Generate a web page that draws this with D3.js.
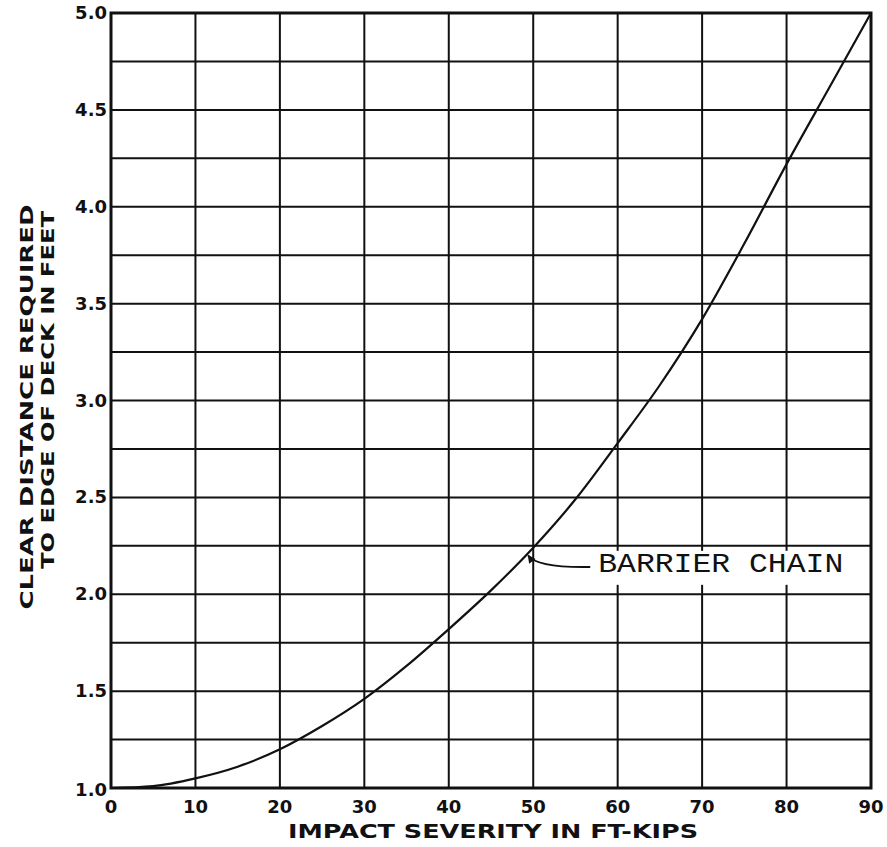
<!DOCTYPE html>
<html>
<head>
<meta charset="utf-8">
<script src="https://cdn.jsdelivr.net/npm/d3@7"></script>
<style>
  body { margin: 0; background: #fff; }
  svg { display: block; }
</style>
</head>
<body>
<svg id="chart" width="887" height="847"></svg>
<script>
// impact severity (ft-kips) vs clear distance to edge of deck (ft)
var severity = [0, 5, 10, 15, 20, 25, 30, 35, 40, 45, 50, 55, 60, 65, 70, 75, 80, 85, 90];
var distance = [1.0, 1.01, 1.05, 1.11, 1.20, 1.32, 1.46, 1.63, 1.82, 2.02, 2.24, 2.49, 2.78, 3.08, 3.42, 3.81, 4.22, 4.61, 5.0];

var xTicks = [0, 10, 20, 30, 40, 50, 60, 70, 80, 90];
var yTicks = [1.0, 1.5, 2.0, 2.5, 3.0, 3.5, 4.0, 4.5, 5.0];
var yGrid = [1.0, 1.25, 1.5, 1.75, 2.0, 2.25, 2.5, 2.75, 3.0, 3.25, 3.5, 3.75, 4.0, 4.25, 4.5, 4.75, 5.0];

var curveName = "BARRIER CHAIN";
var xTitle = "IMPACT SEVERITY IN FT-KIPS";
var yTitle = ["CLEAR DISTANCE REQUIRED", "TO EDGE OF DECK IN FEET"];

var svg = d3.select("#chart");
var pLeft = 111, pRight = 871, pTop = 13, pBottom = 788;
var ink = "#111";
var font = "'DejaVu Sans', sans-serif";

var x = d3.scaleLinear().domain([0, 90]).range([pLeft, pRight]);
var y = d3.scaleLinear().domain([1, 5]).range([pBottom, pTop]);

// grid
svg.append("g").selectAll("line")
    .data(xTicks)
    .enter().append("line")
    .attr("x1", d => x(d)).attr("x2", d => x(d))
    .attr("y1", pTop).attr("y2", pBottom)
    .attr("stroke", ink).attr("stroke-width", 2);

svg.append("g").selectAll("line")
    .data(yGrid)
    .enter().append("line")
    .attr("x1", pLeft).attr("x2", pRight)
    .attr("y1", d => y(d)).attr("y2", d => y(d))
    .attr("stroke", ink).attr("stroke-width", 2);

// frame
svg.append("rect")
    .attr("x", pLeft).attr("y", pTop)
    .attr("width", pRight - pLeft).attr("height", pBottom - pTop)
    .attr("fill", "none").attr("stroke", ink).attr("stroke-width", 3);

// white patch behind the curve label
svg.append("rect")
    .attr("x", x(50) + 3).attr("y", y(2.25) + 5)
    .attr("width", pRight - x(50) - 5).attr("height", 34)
    .attr("fill", "#fff");

// curve
var line = d3.line()
    .x((d, i) => x(severity[i]))
    .y(d => y(d))
    .curve(d3.curveMonotoneX);

svg.append("path")
    .datum(distance)
    .attr("d", line)
    .attr("fill", "none")
    .attr("stroke", ink)
    .attr("stroke-width", 2.2);

// label with arrow
svg.append("defs").append("marker")
    .attr("id", "head")
    .attr("viewBox", "0 0 10 10")
    .attr("refX", 9).attr("refY", 5)
    .attr("markerWidth", 11).attr("markerHeight", 8)
    .attr("markerUnits", "userSpaceOnUse")
    .attr("orient", "auto")
    .append("path")
    .attr("d", "M0,0L10,5L0,10Z")
    .attr("fill", ink);

var tx = x(57.7), ty = y(2.115);
svg.append("path")
    .attr("d", "M" + (tx - 8) + "," + (ty - 5) +
        "Q" + (x(50) + 4) + "," + (ty - 4) + " " + (x(49.4)) + "," + (y(2.2)))
    .attr("fill", "none")
    .attr("stroke", ink)
    .attr("stroke-width", 2)
    .attr("marker-end", "url(#head)");

svg.append("text")
    .attr("x", tx).attr("y", ty)
    .attr("textLength", 245)
    .attr("lengthAdjust", "spacingAndGlyphs")
    .style("font-family", "'Liberation Mono', monospace")
    .style("font-size", "27px")
    .attr("fill", ink)
    .text(curveName);

// tick labels
svg.append("g").selectAll("text")
    .data(xTicks)
    .enter().append("text")
    .attr("x", d => x(d))
    .attr("y", pBottom + 25)
    .attr("text-anchor", "middle")
    .style("font-family", font)
    .style("font-weight", "bold")
    .style("font-size", "18px")
    .attr("fill", ink)
    .text(d => d);

svg.append("g").selectAll("text")
    .data(yTicks)
    .enter().append("text")
    .attr("x", pLeft - 4)
    .attr("y", d => y(d) + (d === 1 ? 8 : 6))
    .attr("text-anchor", "end")
    .style("font-family", font)
    .style("font-weight", "bold")
    .style("font-size", "18px")
    .attr("fill", ink)
    .text(d => d.toFixed(1));

// axis titles
svg.append("text")
    .attr("x", 493).attr("y", 838)
    .attr("text-anchor", "middle")
    .attr("textLength", 410)
    .attr("lengthAdjust", "spacingAndGlyphs")
    .style("font-family", font)
    .style("font-weight", "bold")
    .style("font-size", "20px")
    .attr("fill", ink)
    .text(xTitle);

var yPos = [{cx: 33, cy: 407, len: 405}, {cx: 54, cy: 390, len: 358}];
svg.append("g").selectAll("text")
    .data(yTitle)
    .enter().append("text")
    .attr("transform", (d, i) => "translate(" + yPos[i].cx + "," + yPos[i].cy + ") rotate(-90)")
    .attr("text-anchor", "middle")
    .attr("textLength", (d, i) => yPos[i].len)
    .attr("lengthAdjust", "spacingAndGlyphs")
    .style("font-family", font)
    .style("font-weight", "bold")
    .style("font-size", "18px")
    .attr("fill", ink)
    .text(d => d);
</script>
</body>
</html>
